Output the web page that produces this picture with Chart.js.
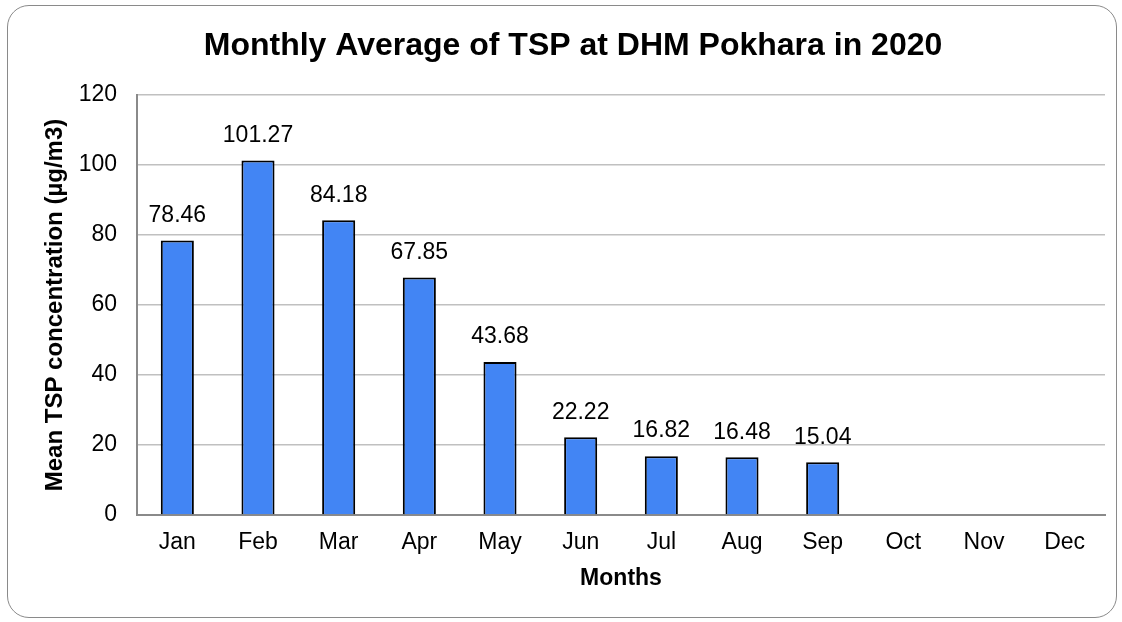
<!DOCTYPE html>
<html>
<head>
<meta charset="utf-8">
<title>Monthly Average of TSP</title>
<script src="https://cdn.jsdelivr.net/npm/chart.js@4/dist/chart.umd.min.js"></script>
<style>
  body { margin: 0; background: #fff; }
  .wrap { position: relative; width: 1122px; height: 622px; }
  .frame {
    position: absolute; left: 7px; top: 5px; width: 1108px; height: 611px;
    border: 1.5px solid #8a8a8a; border-radius: 22px; pointer-events: none;
  }
</style>
</head>
<body>
<div class="wrap">
  <canvas id="tspChart" width="1122" height="622"></canvas>
  <div class="frame"></div>
</div>
<script>
const months = ["Jan", "Feb", "Mar", "Apr", "May", "Jun", "Jul", "Aug", "Sep", "Oct", "Nov", "Dec"];
const tspMeans = [78.46, 101.27, 84.18, 67.85, 43.68, 22.22, 16.82, 16.48, 15.04, null, null, null];
const yTicks = [0, 20, 40, 60, 80, 100, 120];

const FONT = "'Liberation Sans', Arial, sans-serif";

// value labels drawn over each bar
const barValueLabels = {
  id: "barValueLabels",
  afterDatasetsDraw(chart) {
    const ctx = chart.ctx;
    const meta = chart.getDatasetMeta(0);
    ctx.save();
    ctx.font = "23px " + FONT;
    ctx.fillStyle = "#000";
    ctx.textAlign = "center";
    ctx.textBaseline = "middle";
    meta.data.forEach(function (bar, i) {
      const v = chart.data.datasets[0].data[i];
      if (v === null) return;
      ctx.fillText(v.toFixed(2), bar.x, bar.y - 25);
    });
    ctx.restore();
  }
};

new Chart(document.getElementById("tspChart"), {
  type: "bar",
  data: {
    labels: months,
    datasets: [{
      data: tspMeans,
      backgroundColor: "#4285f4",
      borderColor: "#000",
      borderWidth: 2,
      barPercentage: 0.41,
      categoryPercentage: 1
    }]
  },
  options: {
    responsive: false,
    animation: false,
    layout: { padding: { left: 41, right: 17, top: 0, bottom: 0 } },
    plugins: {
      legend: { display: false },
      tooltip: { enabled: false },
      title: {
        display: true,
        text: "Monthly Average of TSP at DHM Pokhara in 2020",
        color: "#000",
        font: { family: FONT, size: 32, weight: "bold" },
        padding: { top: 27, bottom: 29.6 }
      }
    },
    scales: {
      x: {
        grid: { display: false, drawTicks: false },
        border: { color: "#8a8a8a", width: 2 },
        ticks: { color: "#000", font: { family: FONT, size: 23 }, padding: 14, maxRotation: 0 },
        title: {
          display: true,
          text: "Months",
          color: "#000",
          font: { family: FONT, size: 23, weight: "bold" },
          padding: { top: 8, bottom: 30 }
        },
        afterFit: function (scale) { scale.height = 107; }
      },
      y: {
        min: 0,
        max: 120,
        afterBuildTicks: function (scale) {
          scale.ticks = yTicks.map(function (v) { return { value: v }; });
        },
        grid: { color: "#c0c0c0", lineWidth: 1.5, drawTicks: false },
        border: { color: "#8a8a8a", width: 2 },
        ticks: { color: "#000", font: { family: FONT, size: 23 }, padding: 20 },
        title: {
          display: true,
          text: "Mean TSP concentration (µg/m3)",
          color: "#000",
          font: { family: FONT, size: 24, weight: "bold" },
          padding: { top: 0, bottom: 0 }
        },
        afterFit: function (scale) { scale.width = 96; }
      }
    }
  },
  plugins: [barValueLabels]
});
</script>
</body>
</html>
